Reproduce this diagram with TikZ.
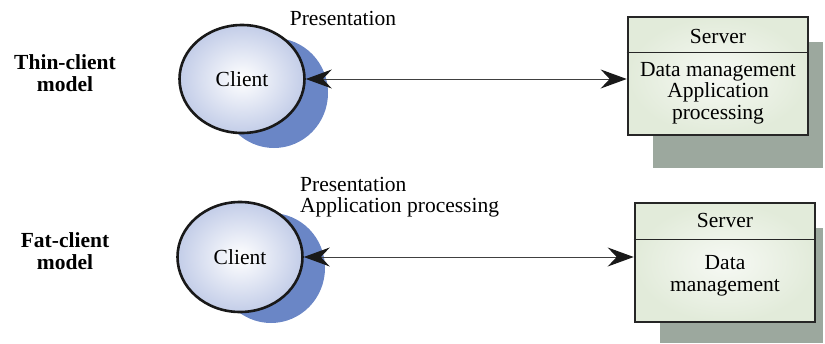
\documentclass[tikz,border=0pt]{standalone}
\usepackage{fontspec}
\setmainfont{Liberation Serif}
\usetikzlibrary{arrows.meta,shapes.geometric}
\definecolor{clientedge}{HTML}{C3CDE8}
\definecolor{blueshadow}{HTML}{6A86C6}
\definecolor{grayshadow}{HTML}{9CA89E}
\definecolor{serverfill}{HTML}{E2EBDA}
\begin{document}
\begin{tikzpicture}[x=1pt,y=-1pt,
  txt/.style={font=\fontsize{21.5}{21.5}\selectfont, inner sep=0pt},
  lbl/.style={txt, font=\fontsize{21.5}{21.5}\selectfont\bfseries, align=center},
  clientnode/.style={shape=ellipse, draw=black!90, line width=2.6pt, inner color=white, outer color=clientedge,
     minimum width=125pt, minimum height=108pt, txt},
  shadowblob/.style={fill=blueshadow, draw=none},
  servernode/.style={draw=black!85, line width=2.6pt, inner color=white!70!serverfill, outer color=serverfill},
  grayback/.style={fill=grayshadow, draw=none},
  tip/.style={},
  conn/.style={line width=1pt, black!75, {Stealth[length=26pt,width=19pt,inset=9pt,black!90]}-{Stealth[length=26pt,width=19pt,inset=9pt,black!90]}}
]
\useasboundingbox (0,0) rectangle (825,343);

% ---------- Thin-client model ----------
\node[lbl] (thin) at (65,73) {Thin-client\\model};
\fill[shadowblob] (274,93) ellipse [x radius=54, y radius=55];
\node[clientnode] (c1) at (242,79) {Client};
\node[txt, anchor=center] (p1) at (343,18) {Presentation};

\fill[grayback] (653,42) rectangle (823,168);
\node[servernode, minimum width=180pt, minimum height=118pt] (s1) at (718,76) {};
\draw[line width=1pt, black!85] (s1.west |- 0,52) -- (s1.east |- 0,52);
\node[txt] (s1t) at (718,36) {Server};
\node[txt, align=center] (s1b) at (718,93) {Data management\\Application\\processing};

\draw[conn] (c1.east) -- (c1.east -| s1.west);

% ---------- Fat-client model ----------
\node[lbl] (fat) at (65,251) {Fat-client\\model};
\fill[shadowblob] (271,268) ellipse [x radius=54, y radius=55];
\node[clientnode, minimum height=110pt] (c2) at (240,257) {Client};
\node[txt, align=left, anchor=north west] (p2) at (300,177) {Presentation\\Application processing};

\fill[grayback] (660,228) rectangle (823,343);
\node[servernode, minimum width=180pt, minimum height=119pt] (s2) at (725,262.5) {};
\draw[line width=1pt, black!85] (s2.west |- 0,239) -- (s2.east |- 0,239);
\node[txt] (s2t) at (725,220) {Server};
\node[txt, align=center] (s2b) at (725,276) {Data\\management};

\draw[conn] (c2.east) -- (c2.east -| s2.west);
\end{tikzpicture}
\end{document}
